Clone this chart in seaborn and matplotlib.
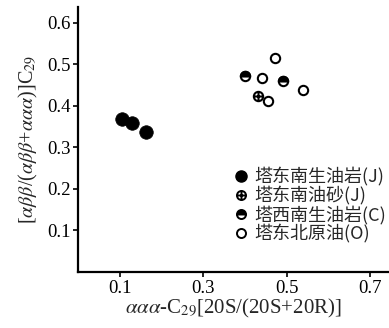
import numpy as np
import pandas as pd
import matplotlib
matplotlib.use("Agg")
import matplotlib.pyplot as plt
from matplotlib.path import Path
from matplotlib.transforms import Affine2D
from matplotlib.lines import Line2D
import seaborn as sns

# Sample groups and their biomarker ratios
groups = ["塔东南生油岩(J)", "塔东南油砂(J)", "塔西南生油岩(C)", "塔东北原油(O)"]
x_source_rock_se = [0.105, 0.129, 0.163]
y_source_rock_se = [0.369, 0.359, 0.337]
x_oil_sand_se = [0.431]
y_oil_sand_se = [0.424]
x_source_rock_sw = [0.400, 0.491]
y_source_rock_sw = [0.472, 0.460]
x_crude_ne = [0.472, 0.441, 0.539, 0.455]
y_crude_ne = [0.516, 0.467, 0.439, 0.412]

x_ticks = [0.1, 0.3, 0.5, 0.7]
y_ticks = [0.1, 0.2, 0.3, 0.4, 0.5, 0.6]

df = pd.DataFrame({
    "x": x_source_rock_se + x_oil_sand_se + x_source_rock_sw + x_crude_ne,
    "y": y_source_rock_se + y_oil_sand_se + y_source_rock_sw + y_crude_ne,
    "group": [groups[0]] * 3 + [groups[1]] * 1 + [groups[2]] * 2 + [groups[3]] * 4,
})

sns.set_style("ticks")
plt.rcParams["font.family"] = ["Liberation Serif", "Noto Sans CJK SC", "DejaVu Sans"]
plt.rcParams["mathtext.fontset"] = "stix"

# Custom marker shapes: circled plus and upper half disc
circle_plus = Path.make_compound_path(
    Path.unit_circle(),
    Path([[-1, 0], [1, 0]], [Path.MOVETO, Path.LINETO]),
    Path([[0, -1], [0, 1]], [Path.MOVETO, Path.LINETO]),
)
upper_half = Path.unit_circle_righthalf().transformed(Affine2D().rotate_deg(90))

fig = plt.figure(figsize=(3.89, 3.28), dpi=100)
ax = fig.add_axes([0.2005, 0.1707, 0.7995, 0.808])

k = 1.5
sns.scatterplot(data=df[df.group == groups[0]], x="x", y="y", ax=ax, s=95,
                color="black", edgecolor="black", linewidth=0.5, legend=False, zorder=3)
sns.scatterplot(data=df[df.group == groups[1]], x="x", y="y", ax=ax, s=45,
                marker=circle_plus, facecolor="white", edgecolor="black",
                linewidth=k, legend=False, zorder=3)
sns.scatterplot(data=df[df.group == groups[2]], x="x", y="y", ax=ax, s=45,
                marker="o", facecolor="white", edgecolor="black",
                linewidth=k, legend=False, zorder=3)
sns.scatterplot(data=df[df.group == groups[2]], x="x", y="y", ax=ax, s=45,
                marker=upper_half, facecolor="black", edgecolor="black",
                linewidth=k, legend=False, zorder=4)
sns.scatterplot(data=df[df.group == groups[3]], x="x", y="y", ax=ax, s=45,
                marker="o", facecolor="white", edgecolor="black",
                linewidth=k, legend=False, zorder=3)

ax.set_xlim(0, 0.745)
ax.set_ylim(0, 0.638)
ax.set_xticks(x_ticks)
ax.set_xticklabels([f"{v:.1f}" for v in x_ticks], fontsize=13.5)
ax.set_yticks(y_ticks)
ax.set_yticklabels([f"{v:.1f}" for v in y_ticks], fontsize=13.5)
ax.tick_params(axis="both", direction="out", length=3.5, width=1.2, color="black",
               labelcolor="black", pad=2)
for side in ["top", "right"]:
    ax.spines[side].set_visible(False)
for side in ["left", "bottom"]:
    ax.spines[side].set_linewidth(1.6)
    ax.spines[side].set_color("black")

ax.set_xlabel(r"$\alpha\alpha\alpha$-C$_{29}$[20S/(20S+20R)]", fontsize=15, labelpad=0)
ax.set_ylabel(r"[$\alpha\beta\beta$/($\alpha\beta\beta$+$\alpha\alpha\alpha$)]C$_{29}$",
              fontsize=14.5, labelpad=5)

handles = [
    Line2D([], [], linestyle="none", marker="o", markersize=8,
           markerfacecolor="black", markeredgecolor="black"),
    Line2D([], [], linestyle="none", marker=circle_plus, markersize=6.5,
           markerfacecolor="white", markeredgecolor="black", markeredgewidth=1.4),
    Line2D([], [], linestyle="none", marker="o", markersize=6.5, fillstyle="top",
           markerfacecolor="black", markerfacecoloralt="white",
           markeredgecolor="black", markeredgewidth=1.4),
    Line2D([], [], linestyle="none", marker="o", markersize=6.5,
           markerfacecolor="white", markeredgecolor="black", markeredgewidth=1.4),
]
leg = ax.legend(handles, groups, loc="lower right", bbox_to_anchor=(1.02, 0.075),
                frameon=False, handlelength=0.7, handletextpad=0.4,
                labelspacing=0.0, borderpad=0,
                prop={"family": ["Noto Sans CJK SC", "DejaVu Sans"], "size": 13,
                      "weight": "medium"})

fig.savefig("out.png", dpi=100, facecolor="white")
